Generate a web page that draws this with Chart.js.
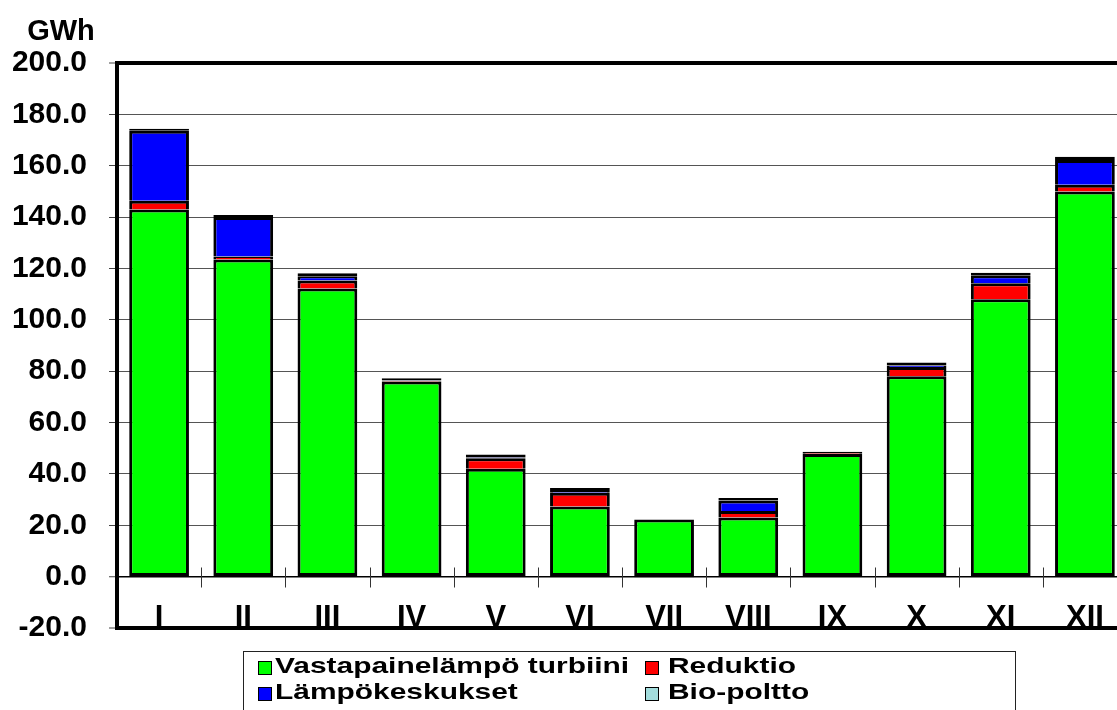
<!DOCTYPE html>
<html>
<head>
<meta charset="utf-8">
<script src="https://cdn.jsdelivr.net/npm/chart.js@4.4.1/dist/chart.umd.min.js"></script>
<style>
  html, body { margin: 0; padding: 0; background: #fff; overflow: hidden; }
  #wrap { position: relative; width: 1127px; height: 710px; }
  #c { position: absolute; left: 0; top: 0; }
  .txt { position: absolute; font-family: "Liberation Sans", Arial, sans-serif; font-weight: bold; color: #000; white-space: nowrap; }
  #unit { left: 25px; top: 16px; font-size: 29px; line-height: 29px; width: 72px; text-align: center; }
  #legend { position: absolute; left: 243px; top: 651px; width: 773px; height: 90px; border: 1px solid #222; box-sizing: border-box; }
  .sw { position: absolute; width: 14px; height: 14px; box-sizing: border-box; border: 1.5px solid #000; }
  .lt { position: absolute; font-size: 22px; line-height: 22px; transform: scaleX(1.36); transform-origin: 0 0; }
</style>
</head>
<body>
<div id="wrap">
  <canvas id="c" width="1127" height="710"></canvas>
  <div id="unit" class="txt"></div>
  <div id="legend"></div>
</div>
<script>
// ---- data ----
const unitLabel = 'GWh';
const months = ['I', 'II', 'III', 'IV', 'V', 'VI', 'VII', 'VIII', 'IX', 'X', 'XI', 'XII'];
const seriesNames = ['Vastapainelämpö turbiini', 'Reduktio', 'Lämpökeskukset', 'Bio-poltto'];
const vastapaine = [143.0, 123.5, 112.2, 76.0, 42.0, 27.3, 22.2, 23.0, 47.8, 78.0, 108.0, 150.0];
const reduktio = [3.4, 1.2, 3.1, 0.3, 4.1, 5.4, 0.0, 2.6, 0.2, 3.6, 6.2, 2.6];
const lampokeskukset = [27.2, 15.3, 1.7, 0.1, 0.3, 0.3, 0.0, 4.0, 0.0, 0.6, 3.2, 9.6];
const biopoltto = [0.8, 0.8, 1.1, 0.8, 1.2, 1.5, -0.4, 1.0, 0.6, 1.2, 0.9, 1.3];
const yMin = -20, yMax = 200, yStep = 20;

const colors = ['#00FF00', '#FF0000', '#0000FF', '#A3DDDD'];
const FONT = '"Liberation Sans", Arial, sans-serif';

document.getElementById('unit').textContent = unitLabel;

// tick marks at category boundaries crossing the zero line
const boundaryTicks = {
  id: 'boundaryTicks',
  afterDatasetsDraw(chart) {
    const x = chart.scales.x, y = chart.scales.y;
    const y0 = Math.round(y.getPixelForValue(0)) + 0.5;
    const ctx = chart.ctx;
    ctx.save();
    ctx.strokeStyle = '#333';
    ctx.lineWidth = 1;
    for (let i = 1; i < months.length; i++) {
      const bx = Math.round((x.getPixelForValue(i - 1) + x.getPixelForValue(i)) / 2) + 0.5;
      ctx.beginPath();
      ctx.moveTo(bx, y0 - 10);
      ctx.lineTo(bx, y0 + 10);
      ctx.stroke();
    }
    ctx.restore();
  }
};

const common = { borderColor: '#000', borderWidth: 3, barPercentage: 0.71, categoryPercentage: 1.0, stack: 's' };

new Chart(document.getElementById('c'), {
  type: 'bar',
  data: {
    labels: months,
    datasets: [
      Object.assign({ label: seriesNames[0], data: vastapaine, backgroundColor: colors[0], borderSkipped: false }, common),
      Object.assign({ label: seriesNames[1], data: reduktio, backgroundColor: colors[1] }, common),
      Object.assign({ label: seriesNames[2], data: lampokeskukset, backgroundColor: colors[2] }, common),
      Object.assign({ label: seriesNames[3], data: biopoltto, backgroundColor: colors[3], borderSkipped: false }, common)
    ]
  },
  options: {
    responsive: false,
    animation: false,
    devicePixelRatio: 1,
    layout: { padding: { top: 63, bottom: 82, left: 0, right: 0 } },
    plugins: { legend: { display: false }, tooltip: { enabled: false } },
    scales: {
      x: {
        stacked: true,
        position: { y: 0 },
        grid: { display: false },
        border: { display: false },
        ticks: { color: '#000', font: { family: FONT, size: 31, weight: 'bold' }, padding: 15, maxRotation: 0, autoSkip: false },
        afterFit(scale) { scale.height = 0; }
      },
      y: {
        stacked: true,
        min: yMin, max: yMax,
        ticks: {
          stepSize: yStep,
          color: '#000',
          padding: 22,
          font: { family: FONT, size: 30, weight: 'bold' },
          callback: (v) => Number(v).toFixed(1)
        },
        grid: {
          color: (c) => (c.tick && (c.tick.value === 0 || c.tick.value === yMin || c.tick.value === yMax)) ? '#000' : '#555',
          lineWidth: (c) => (c.tick && (c.tick.value === yMin || c.tick.value === yMax)) ? 4 : (c.tick && c.tick.value === 0 ? 1.5 : 1),
          tickLength: 8,
          tickWidth: 1,
          tickColor: '#444'
        },
        border: { display: true, color: '#000', width: 4 },
        afterFit(scale) { scale.width = 117; }
      }
    }
  },
  plugins: [boundaryTicks]
});

// legend built from the series names and colours
const legend = document.getElementById('legend');
const legendCells = [
  { s: 0, col: 0, row: 0 }, { s: 1, col: 1, row: 0 },
  { s: 2, col: 0, row: 1 }, { s: 3, col: 1, row: 1 }
];
const colSw = [14, 401], colTx = [31, 424], rowSw = [9, 35], rowTx = [3, 29];
legendCells.forEach(({ s, col, row }) => {
  const sw = document.createElement('div');
  sw.className = 'sw';
  sw.style.left = colSw[col] + 'px';
  sw.style.top = rowSw[row] + 'px';
  sw.style.background = colors[s];
  legend.appendChild(sw);
  const t = document.createElement('div');
  t.className = 'txt lt';
  t.style.left = colTx[col] + 'px';
  t.style.top = rowTx[row] + 'px';
  t.textContent = seriesNames[s];
  legend.appendChild(t);
});
</script>
</body>
</html>
